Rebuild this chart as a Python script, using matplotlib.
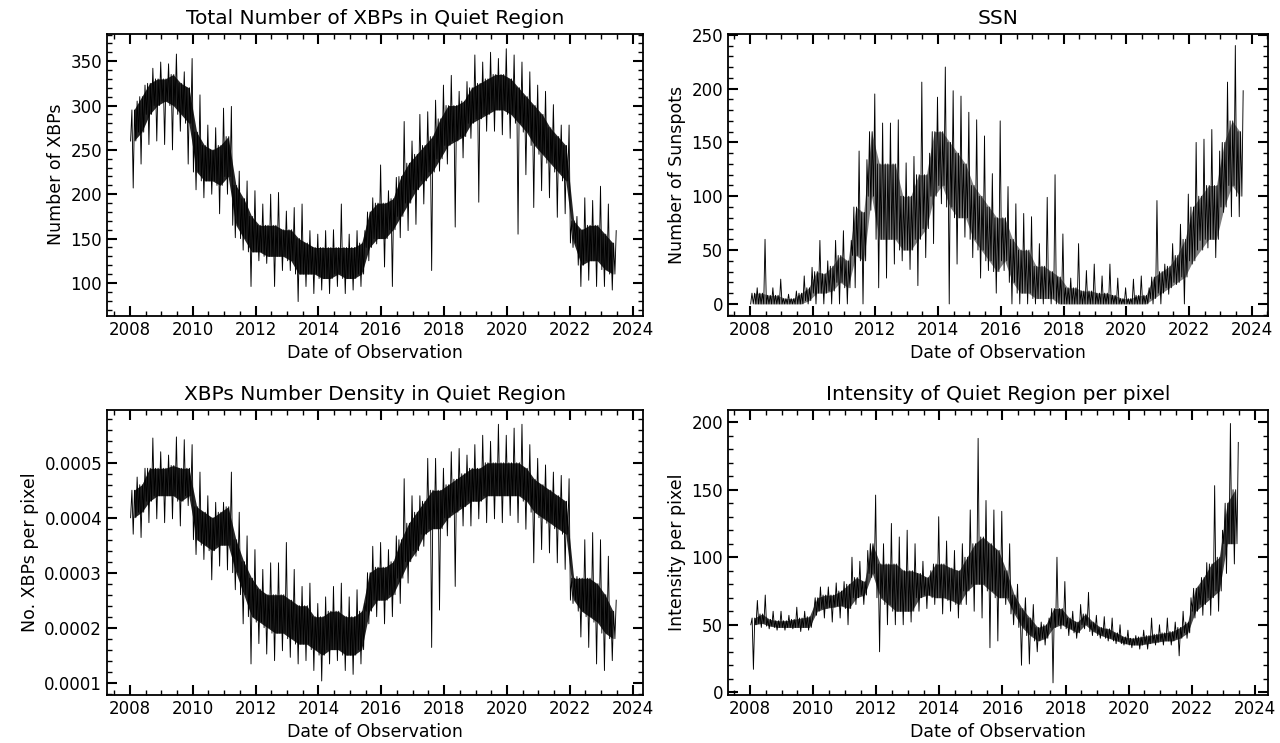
import numpy as np
import matplotlib
matplotlib.use("Agg")
import matplotlib.pyplot as plt
from matplotlib.ticker import MultipleLocator

# ---------------- data (quarterly envelopes) ----------------
# Total number of XBPs, quarters starting 2008.00 ... 2023.25
xbp_start = 2008.0
xbp_hi = [305, 323, 342, 349, 347, 358, 338, 353, 312, 278, 275, 297, 299, 226, 215, 204,
          189, 200, 202, 181, 185, 189, 159, 155, 159, 160, 189, 155, 159, 159, 196, 233,
          204, 219, 282, 260, 290, 293, 306, 323, 334, 316, 327, 357, 349, 360, 353, 364,
          357, 349, 338, 323, 316, 301, 278, 278, 175, 196, 193, 209, 189, 159]
xbp_lo = [207, 234, 256, 260, 256, 250, 271, 234, 205, 196, 200, 178, 200, 151, 137, 96,
          125, 122, 96, 114, 114, 79, 96, 88, 92, 88, 96, 88, 92, 96, 125, 144,
          118, 96, 151, 159, 166, 189, 114, 226, 234, 163, 241, 263, 191, 271, 271, 267,
          263, 155, 222, 185, 204, 196, 174, 178, 140, 96, 103, 96, 96, 92]
xbp_core_lo = [260, 270, 290, 300, 305, 300, 290, 280, 225, 215, 215, 210, 220, 165, 150, 135,
               135, 130, 130, 130, 125, 110, 110, 110, 105, 105, 110, 105, 105, 110, 140, 150,
               150, 160, 175, 190, 205, 215, 225, 240, 255, 260, 265, 280, 285, 290, 295, 295,
               290, 280, 270, 255, 245, 235, 225, 215, 145, 120, 125, 125, 115, 110]
xbp_core_hi = [295, 310, 325, 330, 330, 335, 325, 320, 270, 255, 250, 255, 265, 210, 195, 175,
               165, 165, 165, 160, 160, 150, 145, 140, 140, 140, 140, 140, 140, 145, 180, 190,
               190, 195, 220, 235, 245, 255, 265, 285, 300, 300, 305, 320, 325, 330, 335, 335,
               330, 320, 310, 300, 290, 275, 265, 255, 170, 160, 165, 165, 155, 145]

# Sunspot number, quarters starting 2008.00 ... 2023.50
ssn_start = 2008.0
ssn_hi = [15, 60, 15, 23, 9, 12, 26, 34, 59, 40, 59, 68, 59, 142, 134, 195,
          168, 168, 171, 131, 137, 206, 140, 192, 220, 198, 193, 178, 171, 156, 121, 170,
          109, 93, 84, 81, 56, 99, 120, 65, 24, 56, 31, 37, 26, 37, 24, 15,
          23, 26, 15, 96, 37, 56, 74, 102, 150, 153, 162, 142, 206, 240, 198]
ssn_lo = [0, 0, 0, 0, 0, 0, 0, 0, 0, 0, 0, 0, 0, 15, 0, 87,
          15, 24, 37, 40, 32, 17, 43, 56, 93, 0, 37, 62, 43, 24, 31, 10,
          31, 0, 0, 0, 0, 0, 0, 0, 0, 0, 0, 0, 0, 0, 0, 0,
          0, 0, 0, 0, 0, 9, 18, 0, 37, 59, 52, 43, 85, 81, 81]
ssn_core_lo = [0, 0, 0, 0, 0, 0, 0, 3, 10, 10, 12, 20, 15, 45, 40, 100,
               60, 60, 60, 50, 50, 60, 70, 100, 110, 90, 80, 80, 60, 50, 40, 30,
               40, 20, 10, 10, 5, 5, 5, 0, 0, 0, 0, 0, 0, 0, 0, 0,
               0, 0, 0, 5, 10, 15, 20, 25, 40, 50, 60, 60, 90, 110, 100]
ssn_core_hi = [10, 10, 8, 8, 5, 5, 10, 15, 30, 28, 35, 45, 40, 90, 85, 160,
               130, 130, 130, 100, 100, 120, 120, 160, 160, 150, 140, 130, 110, 100, 90, 80,
               80, 60, 50, 50, 35, 35, 30, 25, 15, 15, 12, 12, 10, 10, 8, 5,
               5, 8, 8, 25, 30, 35, 45, 60, 90, 100, 110, 110, 150, 170, 160]

# XBP number density (units of 1e-4 per pixel), quarters starting 2008.00 ... 2023.25
den_start = 2008.0
den_hi = [4.74, 4.90, 5.45, 5.20, 5.14, 5.47, 5.42, 5.33, 4.83, 4.40, 4.28, 4.28, 4.83, 4.10, 3.67, 3.42,
          3.06, 3.18, 3.18, 3.55, 3.06, 2.75, 2.81, 2.44, 2.56, 2.75, 2.81, 2.56, 2.69, 2.44, 3.48, 3.55,
          3.42, 3.67, 4.71, 4.40, 4.40, 5.08, 5.08, 4.90, 5.20, 5.26, 5.14, 5.33, 5.50, 5.39, 5.70, 5.50,
          5.63, 5.70, 5.33, 5.08, 4.96, 4.83, 4.77, 4.71, 2.93, 3.60, 3.73, 3.60, 3.30, 2.50]
den_lo = [3.70, 3.64, 3.91, 3.98, 3.91, 3.98, 3.85, 4.22, 3.33, 3.24, 2.87, 3.12, 3.05, 2.69, 2.07, 1.34,
          1.71, 1.52, 1.40, 1.58, 1.46, 1.34, 1.40, 1.22, 1.03, 1.34, 1.40, 1.22, 1.15, 1.34, 2.07, 2.20,
          2.07, 2.20, 2.44, 2.81, 3.30, 3.48, 1.64, 2.32, 3.67, 2.75, 3.85, 3.85, 3.98, 3.91, 3.98, 3.91,
          4.04, 3.91, 3.79, 3.18, 3.42, 3.36, 3.18, 3.06, 2.44, 1.83, 1.64, 1.34, 1.22, 1.40]
den_core_lo = [4.0, 4.1, 4.3, 4.4, 4.4, 4.4, 4.3, 4.4, 3.6, 3.5, 3.4, 3.5, 3.5, 3.0, 2.6, 2.2,
               2.1, 2.0, 1.9, 1.9, 1.8, 1.7, 1.7, 1.6, 1.5, 1.6, 1.6, 1.5, 1.5, 1.6, 2.3, 2.5,
               2.5, 2.6, 2.9, 3.2, 3.4, 3.7, 3.8, 3.8, 4.0, 4.1, 4.2, 4.3, 4.3, 4.4, 4.4, 4.4,
               4.4, 4.4, 4.3, 4.1, 4.0, 3.9, 3.8, 3.7, 2.5, 2.3, 2.2, 2.1, 1.9, 1.8]
den_core_hi = [4.5, 4.6, 4.9, 4.9, 4.9, 4.95, 4.9, 4.9, 4.2, 4.1, 4.0, 4.1, 4.2, 3.6, 3.2, 2.9,
               2.7, 2.6, 2.6, 2.6, 2.5, 2.4, 2.4, 2.2, 2.2, 2.3, 2.3, 2.2, 2.2, 2.3, 3.0, 3.1,
               3.1, 3.2, 3.6, 3.9, 4.1, 4.3, 4.5, 4.5, 4.6, 4.7, 4.8, 4.9, 4.9, 5.0, 5.0, 5.0,
               5.0, 5.0, 4.9, 4.7, 4.6, 4.5, 4.4, 4.3, 2.9, 2.9, 2.9, 2.8, 2.6, 2.3]

# Intensity of quiet region per pixel, quarters starting 2008.00 ... 2023.25
int_start = 2008.0
int_hi = [68, 72, 60, 60, 57, 63, 60, 55, 78, 78, 81, 82, 100, 97, 105, 146,
          110, 125, 115, 120, 110, 97, 90, 130, 112, 105, 110, 135, 188, 142, 135, 134,
          110, 80, 70, 65, 52, 55, 100, 82, 60, 65, 74, 57, 56, 55, 50, 46,
          42, 46, 55, 50, 55, 52, 60, 70, 78, 96, 153, 120, 199, 185]
int_lo = [17, 48, 47, 46, 46, 47, 45, 46, 57, 55, 52, 55, 50, 65, 65, 85,
          30, 50, 50, 50, 52, 60, 62, 65, 58, 60, 55, 65, 60, 55, 33, 38,
          65, 50, 20, 21, 30, 35, 7, 47, 42, 40, 47, 42, 40, 38, 36, 35,
          33, 32, 32, 35, 35, 35, 27, 40, 55, 57, 57, 60, 88, 95]
int_core_lo = [50, 51, 49, 48, 48, 48, 48, 48, 60, 62, 63, 64, 62, 70, 72, 88,
               70, 65, 60, 60, 60, 70, 72, 70, 70, 68, 65, 75, 80, 80, 75, 70,
               70, 58, 48, 42, 38, 40, 48, 50, 47, 44, 50, 45, 42, 40, 38, 36,
               35, 35, 36, 37, 38, 38, 40, 44, 60, 65, 70, 75, 110, 110]
int_core_hi = [55, 58, 54, 53, 53, 54, 55, 56, 70, 72, 72, 75, 80, 85, 82, 110,
               95, 95, 95, 90, 90, 88, 85, 95, 95, 92, 90, 100, 110, 115, 110, 105,
               90, 72, 62, 55, 48, 50, 62, 62, 55, 52, 58, 52, 48, 47, 44, 41,
               40, 41, 42, 43, 44, 45, 48, 52, 77, 85, 95, 100, 140, 150]

titles = ["Total Number of XBPs in Quiet Region", "SSN",
          "XBPs Number Density in Quiet Region", "Intensity of Quiet Region per pixel"]
ylabels = ["Number of XBPs", "Number of Sunspots", "No. XBPs per pixel", "Intensity per pixel"]
xlabel = "Date of Observation"


def draw(ax, start, lo, hi, clo, chi, scale=1.0, fill_alpha=0.85):
    lo = np.asarray(lo, float) * scale
    hi = np.asarray(hi, float) * scale
    clo = np.asarray(clo, float) * scale
    chi = np.asarray(chi, float) * scale
    n = len(lo)
    q = start + 0.25 * np.arange(n)
    # dense core underneath
    ax.fill_between(q + 0.125, clo, chi, color="k", lw=0, alpha=fill_alpha)
    # one trace per quarter visiting the read levels: core, outer low, core, outer high
    levels = np.stack([clo, chi, lo, chi, clo, hi], axis=1)
    k = levels.shape[1]
    offs = (np.arange(k) + 0.5) / k * 0.25
    x = (q[:, None] + offs[None, :]).ravel()
    y = levels.ravel()
    ax.plot(x, y, color="k", lw=0.65)


fig = plt.figure(figsize=(12.8, 7.43), dpi=100)
ax1 = fig.add_axes([0.0836, 0.575, 0.4187, 0.3797])
ax2 = fig.add_axes([0.5688, 0.575, 0.4218, 0.3797])
ax3 = fig.add_axes([0.0836, 0.0646, 0.4187, 0.3836])
ax4 = fig.add_axes([0.5688, 0.0646, 0.4218, 0.3836])

draw(ax1, xbp_start, xbp_lo, xbp_hi, xbp_core_lo, xbp_core_hi)
draw(ax2, ssn_start, ssn_lo, ssn_hi, ssn_core_lo, ssn_core_hi, fill_alpha=0.5)
draw(ax3, den_start, den_lo, den_hi, den_core_lo, den_core_hi, scale=1e-4)
draw(ax4, int_start, int_lo, int_hi, int_core_lo, int_core_hi, fill_alpha=0.7)

ax1.set_xlim(2007.27, 2024.33); ax1.set_ylim(63, 381)
ax2.set_xlim(2007.30, 2024.52); ax2.set_ylim(-11, 251)
ax3.set_xlim(2007.27, 2024.33); ax3.set_ylim(0.775e-4, 5.96e-4)
ax4.set_xlim(2007.30, 2024.42); ax4.set_ylim(-2, 209)

ax1.yaxis.set_major_locator(MultipleLocator(50)); ax1.yaxis.set_minor_locator(MultipleLocator(10))
ax2.yaxis.set_major_locator(MultipleLocator(50)); ax2.yaxis.set_minor_locator(MultipleLocator(10))
ax3.yaxis.set_major_locator(MultipleLocator(1e-4)); ax3.yaxis.set_minor_locator(MultipleLocator(2e-5))
ax4.yaxis.set_major_locator(MultipleLocator(50)); ax4.yaxis.set_minor_locator(MultipleLocator(10))

for ax, t, yl in zip([ax1, ax2, ax3, ax4], titles, ylabels):
    ax.xaxis.set_major_locator(MultipleLocator(2))
    ax.xaxis.set_minor_locator(MultipleLocator(0.5))
    ax.xaxis.set_major_formatter(plt.FuncFormatter(lambda v, p: f"{int(round(v))}"))
    ax.tick_params(which="major", direction="in", length=7, width=1.5, top=True, right=True,
                   labelsize=12)
    ax.tick_params(which="minor", direction="in", length=3.5, width=1.0, top=True, right=True)
    for s in ax.spines.values():
        s.set_linewidth(1.3)
    ax.set_title(t, fontsize=14.5, pad=7)
    ax.set_xlabel(xlabel, fontsize=12.5)
    ax.set_ylabel(yl, fontsize=12.5)

fig.savefig("out.png", dpi=100)
